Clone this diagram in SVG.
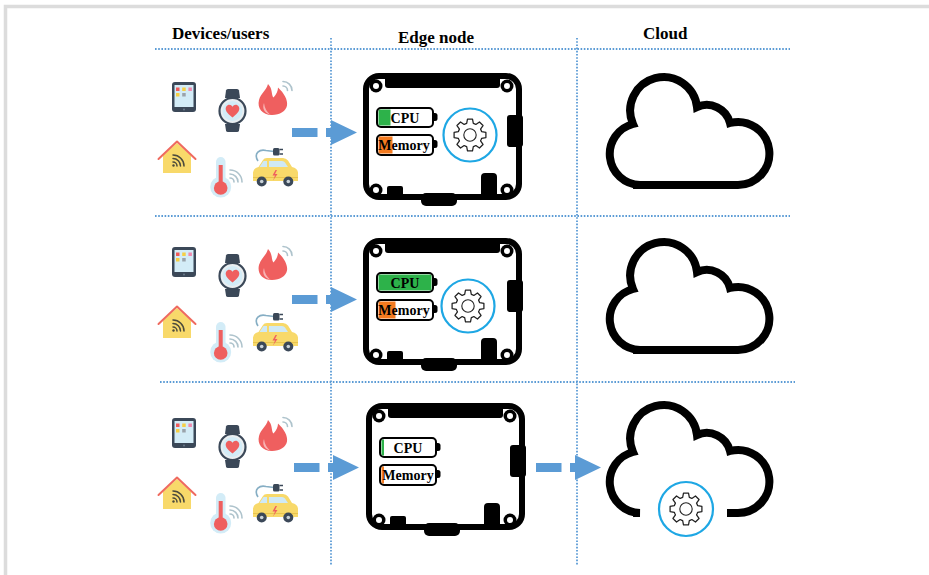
<svg xmlns="http://www.w3.org/2000/svg" xmlns:xlink="http://www.w3.org/1999/xlink" width="929" height="575" viewBox="0 0 929 575">
  <style>
    .hdr { font-family: "Liberation Serif", "Times New Roman", serif; font-weight: bold; font-size: 17px; fill: #000; }
    .lbl { font-family: "Liberation Serif", "Times New Roman", serif; font-weight: bold; font-size: 14px; fill: #000; }
    .dots { stroke: #5b9bd5; stroke-width: 1.8; stroke-dasharray: 1.6 1.6; fill: none; }
    .arrow { fill: #5b9bd5; }
    .ink { fill: #000; }
    .batt { fill: none; stroke: #000; stroke-width: 2; }
    .ring { fill: none; stroke: #1ea7e4; stroke-width: 2.2; }
    .cloud { fill: none; stroke: #000; stroke-width: 8; }
    .wifi { fill: none; stroke: #aec3cc; stroke-width: 1.6; stroke-linecap: round; }
    .slate { fill: #3b4858; }
    .sky { fill: #d3ecf7; }
    .red { fill: #ef5f5f; }
    .yellow { fill: #f8d96a; }
  </style>
  <defs>
    <!-- outline gear, centred on 0,0 -->
    <g id="gear" fill="none" stroke="#222" stroke-width="1.1" stroke-linejoin="round">
      <path transform="scale(1.15)" d="M10.09 -2.89 L13.83 -2.19 L13.83 2.19 L10.09 2.89 A10.5 10.5 0 0 1 9.18 5.09 L11.33 8.23 L8.23 11.33 L5.09 9.18 A10.5 10.5 0 0 1 2.89 10.09 L2.19 13.83 L-2.19 13.83 L-2.89 10.09 A10.5 10.5 0 0 1 -5.09 9.18 L-8.23 11.33 L-11.33 8.23 L-9.18 5.09 A10.5 10.5 0 0 1 -10.09 2.89 L-13.83 2.19 L-13.83 -2.19 L-10.09 -2.89 A10.5 10.5 0 0 1 -9.18 -5.09 L-11.33 -8.23 L-8.23 -11.33 L-5.09 -9.18 A10.5 10.5 0 0 1 -2.89 -10.09 L-2.19 -13.83 L2.19 -13.83 L2.89 -10.09 A10.5 10.5 0 0 1 5.09 -9.18 L8.23 -11.33 L11.33 -8.23 L9.18 -5.09 A10.5 10.5 0 0 1 10.09 -2.89 Z"/>
      <circle r="6.2"/>
    </g>

    <!-- bare circuit board outline -->
    <g id="board">
      <rect x="366" y="76" width="153" height="121" rx="13" fill="none" stroke="#000" stroke-width="6"/>
      <rect class="ink" x="385" y="73" width="115" height="15" rx="3"/>
      <rect class="ink" x="507" y="115" width="16" height="32" rx="3"/>
      <rect class="ink" x="387" y="186" width="16" height="13" rx="2"/>
      <rect class="ink" x="421" y="193" width="36" height="13" rx="5"/>
      <rect class="ink" x="481" y="173" width="16" height="26" rx="4"/>
      <g class="ink">
        <circle cx="376" cy="86" r="6.5"/>
        <circle cx="507" cy="86" r="6.5"/>
        <circle cx="376" cy="190" r="6.5"/>
        <circle cx="507" cy="190" r="6.5"/>
      </g>
      <g fill="#fff">
        <circle cx="376" cy="86" r="3"/>
        <circle cx="507" cy="86" r="3"/>
        <circle cx="376" cy="190" r="3"/>
        <circle cx="507" cy="190" r="3"/>
      </g>
      <!-- battery nubs -->
      <path class="ink" d="M433 113 h2 a2.5 2.5 0 0 1 2.5 2.5 v3 a2.5 2.5 0 0 1 -2.5 2.5 h-2 z"/>
      <path class="ink" d="M433 140 h2 a2.5 2.5 0 0 1 2.5 2.5 v3 a2.5 2.5 0 0 1 -2.5 2.5 h-2 z"/>
    </g>

    <!-- cloud outline, open between x=633 and x=727 on the bottom edge -->
    <path id="cloud-open" class="cloud" d="M633 185 L640 185 A31 31 0 0 1 633 124 A33.5 33.5 0 1 1 697 107 A24 24 0 0 1 730 123 A31.5 31.5 0 1 1 738 185 L727 185"/>
    <path id="cloud-closed" class="cloud" d="M633 185 L640 185 A31 31 0 0 1 633 124 A33.5 33.5 0 1 1 697 107 A24 24 0 0 1 730 123 A31.5 31.5 0 1 1 738 185 L633 185 Z"/>

    <!-- set of device icons -->
    <g id="device-set">
      <!-- tablet -->
      <rect class="slate" x="172" y="82" width="24" height="30" rx="3"/>
      <rect class="sky" x="174.5" y="85" width="19" height="22"/>
      <rect x="176" y="87.5" width="3.5" height="3.5" fill="#f05a5a"/>
      <rect x="182.2" y="87.5" width="3.5" height="3.5" fill="#f6cf45"/>
      <rect x="188.4" y="87.5" width="3.5" height="3.5" fill="#f08aae"/>
      <rect x="176" y="93" width="3.5" height="3.5" fill="#f6cf45"/>
      <rect x="182.2" y="93" width="3.5" height="3.5" fill="#9aa3ab"/>
      <circle cx="184" cy="109.5" r="1" fill="#6b7a8a"/>
      <!-- smart watch -->
      <path class="slate" d="M225 98 L226 90.5 Q226.3 89 228 89 L237 89 Q238.7 89 239 90.5 L240 98 Z"/>
      <path class="slate" d="M225 124 L226 130.5 Q226.3 132 228 132 L237 132 Q238.7 132 239 130.5 L240 124 Z"/>
      <circle cx="232.5" cy="111" r="13" fill="#e9eef1" stroke="#3b4858" stroke-width="2.2"/>
      <circle class="sky" cx="232.5" cy="111" r="10"/>
      <path class="red" d="M232.5 117.5 C226.5 113 224.5 109.5 226.3 106.5 C228 103.8 231.3 104.4 232.5 106.8 C233.7 104.4 237 103.8 238.7 106.5 C240.5 109.5 238.5 113 232.5 117.5 Z"/>
      <!-- flame -->
      <path class="red" d="M272 115 C262 115 257 108 259 100 C261 93 266 91 268 84 C273 89 271 95 273.5 97.5 C276.5 94 278 91 278 87.5 C284 93 288 100 287 105.5 C286 111 280 115 272 115 Z"/>
      <path fill="#f8b3b3" d="M270 114.5 C264 113 262 108 264 103 C264.5 108 267 112 270 114.5 Z"/>
      <path class="wifi" d="M283 86 A4.5 4.5 0 0 1 287.5 90.5 M283 81.5 A9 9 0 0 1 292 90.5"/>
      <!-- house -->
      <polygon class="yellow" points="163,155.5 177,143 191,155.5 191,173 163,173"/>
      <polyline points="158.5,159 177,141.5 195.5,159" fill="none" stroke="#ef6a5f" stroke-width="2" stroke-linecap="round" stroke-linejoin="round"/>
      <g fill="none" stroke="#4b4a3c" stroke-width="1.5" stroke-linecap="round">
        <path d="M173 162 A4 4 0 0 1 177 166 M173 158.5 A7.5 7.5 0 0 1 180.5 166 M173 155 A11 11 0 0 1 184 166"/>
      </g>
      <circle cx="173.5" cy="165.5" r="1.2" fill="#4b4a3c"/>
      <!-- thermometer -->
      <rect class="sky" x="216" y="157" width="9.5" height="32" rx="4.75"/>
      <circle class="sky" cx="220.7" cy="187" r="10.5"/>
      <rect class="red" x="218.7" y="165" width="4" height="22"/>
      <circle class="red" cx="220.7" cy="188" r="6.8"/>
      <path class="wifi" d="M230 178 A4 4 0 0 1 234 182 M230 174 A8 8 0 0 1 238 182 M230 170 A12 12 0 0 1 242 182"/>
      <!-- electric car -->
      <path fill="none" stroke="#86aec4" stroke-width="1.6" d="M258 161 C253 153 260 149 266 150.5 L274 151.5"/>
      <rect class="slate" x="273" y="148" width="6.5" height="7.5" rx="1.5"/>
      <path d="M279.5 149.5 h3.5 M279.5 154 h3.5" stroke="#3b4858" stroke-width="1.3"/>
      <path class="yellow" d="M253 181 L253 172.5 Q253.5 168 258.5 167 L263 160 Q264 158 267 158 L283 158 Q286 158 288 160.5 L292 167 Q297.5 168 298 172.5 L298 181 Z"/>
      <path fill="#cfe9f5" d="M259.5 167 L263.5 161 L267 161 L267 167 Z M269 161 L282 161 Q284 161 285 162.5 L288 167 L269 167 Z"/>
      <path d="M253 177.5 H298" stroke="#e8c34e" stroke-width="1.2"/>
      <path fill="#ef5f5f" d="M275.5 170 L272.5 175.5 L275 175.5 L273 180.5 L277.5 174 L275 174 L277 170 Z"/>
      <circle class="slate" cx="261.7" cy="181.5" r="5"/>
      <circle class="slate" cx="288.3" cy="181.5" r="5"/>
      <circle cx="261.7" cy="181.5" r="1.8" fill="#c9d2d8"/>
      <circle cx="288.3" cy="181.5" r="1.8" fill="#c9d2d8"/>
    </g>

    <!-- block arrow -->
    <g id="arrow">
      <rect class="arrow" x="292" y="128" width="25.5" height="9"/>
      <path class="arrow" d="M326 128 H331 V120 L357 132.5 L331 145 V137 H326 Z"/>
    </g>
  </defs>

  <!-- page frame -->
  <path d="M5.5 577 V6.5 H931" fill="none" stroke="#dcdcdc" stroke-width="3.5"/>

  <!-- column headers -->
  <g id="headers">
    <text class="hdr" x="172" y="39">Devices/users</text>
    <text class="hdr" x="398" y="43">Edge node</text>
    <text class="hdr" x="643" y="39">Cloud</text>
  </g>

  <!-- dotted grid -->
  <g id="grid">
    <line class="dots" x1="155" y1="49" x2="790" y2="49"/>
    <line class="dots" x1="155" y1="216" x2="790" y2="216"/>
    <line class="dots" x1="160" y1="382" x2="795" y2="382"/>
    <line class="dots" x1="331" y1="38" x2="331" y2="566"/>
    <line class="dots" x1="577" y1="38" x2="577" y2="566"/>
  </g>

  <!-- row 1 -->
  <g id="devices-1"><use xlink:href="#device-set"/></g>
  <g id="edge-1">
    <use xlink:href="#board"/>
    <rect x="378.5" y="109.5" width="12" height="16" fill="#2db24a"/>
    <rect class="batt" x="377" y="108" width="56" height="19" rx="4"/>
    <text class="lbl" x="405" y="123" text-anchor="middle">CPU</text>
    <rect x="378.5" y="136.5" width="14" height="17" fill="#f47b20"/>
    <rect class="batt" x="377" y="135" width="56" height="20" rx="4"/>
    <text class="lbl" x="404" y="150" text-anchor="middle">Memory</text>
    <circle class="ring" cx="470" cy="135" r="26.5"/>
    <use xlink:href="#gear" x="470" y="135"/>
  </g>
  <g id="cloud-1"><use xlink:href="#cloud-closed"/></g>

  <!-- row 2 -->
  <g id="devices-2"><use xlink:href="#device-set" y="165"/></g>
  <g id="edge-2">
    <use xlink:href="#board" y="165"/>
    <rect x="378.5" y="274.5" width="53" height="16" fill="#2db24a"/>
    <rect class="batt" x="377" y="273" width="56" height="19" rx="4"/>
    <text class="lbl" x="405" y="288" text-anchor="middle">CPU</text>
    <rect x="378.5" y="301.5" width="17" height="17" fill="#f47b20"/>
    <rect class="batt" x="377" y="300" width="56" height="20" rx="4"/>
    <text class="lbl" x="404" y="315" text-anchor="middle">Memory</text>
    <circle class="ring" cx="468" cy="306" r="26.5"/>
    <use xlink:href="#gear" x="468" y="306"/>
  </g>
  <g id="cloud-2"><use xlink:href="#cloud-closed" y="165"/></g>

  <!-- row 3 -->
  <g id="devices-3"><use xlink:href="#device-set" y="336"/></g>
  <g id="edge-3" transform="translate(3 330)">
    <use xlink:href="#board"/>
    <rect x="378.5" y="109.5" width="2.5" height="16" fill="#2db24a"/>
    <rect class="batt" x="377" y="108" width="56" height="19" rx="4"/>
    <text class="lbl" x="405" y="123" text-anchor="middle">CPU</text>
    <rect x="378.5" y="136.5" width="2.5" height="17" fill="#f47b20"/>
    <rect class="batt" x="377" y="135" width="56" height="20" rx="4"/>
    <text class="lbl" x="405" y="150" text-anchor="middle">Memory</text>
  </g>
  <g id="cloud-3">
    <use xlink:href="#cloud-open" y="328"/>
    <circle class="ring" cx="686" cy="509" r="27"/>
    <use xlink:href="#gear" x="686" y="509"/>
  </g>

  <!-- connectors -->
  <g id="connectors">
    <use xlink:href="#arrow"/>
    <use xlink:href="#arrow" y="167"/>
    <use xlink:href="#arrow" x="2" y="335"/>
    <use xlink:href="#arrow" x="244" y="335"/>
  </g>
</svg>
